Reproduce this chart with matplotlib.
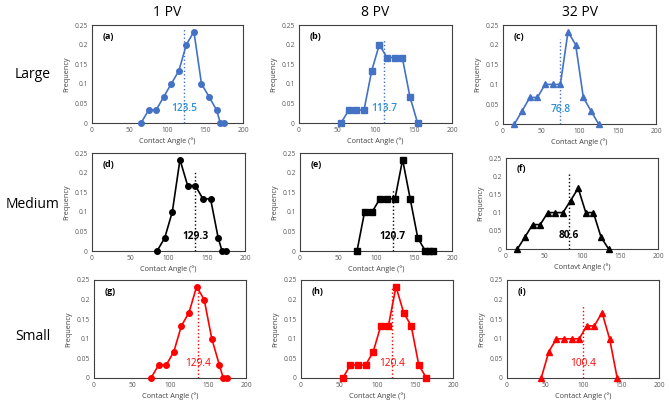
import matplotlib
matplotlib.use('Agg')
import matplotlib.pyplot as plt

plt.rcParams['font.family'] = ['Open Sans', 'DejaVu Sans']

# bin centres and frequencies, one list per panel
x_a = [65, 75, 85, 95, 105, 115, 125, 135, 145, 155, 165, 170, 175]
y_a = [0, 0.033, 0.033, 0.067, 0.1, 0.133, 0.2, 0.233, 0.1, 0.067, 0.033, 0, 0]
x_b = [55, 65, 75, 85, 95, 105, 115, 125, 135, 145, 155]
y_b = [0, 0.033, 0.033, 0.033, 0.133, 0.2, 0.167, 0.167, 0.167, 0.067, 0]
x_c = [15, 25, 35, 45, 55, 65, 75, 85, 95, 105, 115, 125]
y_c = [0, 0.033, 0.067, 0.067, 0.1, 0.1, 0.1, 0.233, 0.2, 0.067, 0.033, 0]
x_d = [85, 95, 105, 115, 125, 135, 145, 155, 165, 170, 175]
y_d = [0, 0.033, 0.1, 0.233, 0.167, 0.167, 0.133, 0.133, 0.033, 0, 0]
x_e = [75, 85, 95, 105, 115, 125, 135, 145, 155, 165, 170, 175]
y_e = [0, 0.1, 0.1, 0.133, 0.133, 0.133, 0.233, 0.133, 0.033, 0, 0, 0]
x_f = [15, 25, 35, 45, 55, 65, 75, 85, 95, 105, 115, 125, 135]
y_f = [0, 0.033, 0.067, 0.067, 0.1, 0.1, 0.1, 0.133, 0.167, 0.1, 0.1, 0.033, 0]
x_g = [75, 85, 95, 105, 115, 125, 135, 145, 155, 165, 170, 175]
y_g = [0, 0.033, 0.033, 0.067, 0.133, 0.167, 0.233, 0.2, 0.1, 0.033, 0, 0]
x_h = [55, 65, 75, 85, 95, 105, 115, 125, 135, 145, 155, 165]
y_h = [0, 0.033, 0.033, 0.033, 0.067, 0.133, 0.133, 0.233, 0.167, 0.133, 0.033, 0]
x_i = [45, 55, 65, 75, 85, 95, 105, 115, 125, 135, 145]
y_i = [0, 0.067, 0.1, 0.1, 0.1, 0.1, 0.133, 0.133, 0.167, 0.1, 0]

xs = [x_a, x_b, x_c, x_d, x_e, x_f, x_g, x_h, x_i]
ys = [y_a, y_b, y_c, y_d, y_e, y_f, y_g, y_h, y_i]
letters = ['(a)', '(b)', '(c)', '(d)', '(e)', '(f)', '(g)', '(h)', '(i)']
mean_labels = ['123.5', '113.7', '76.8', '129.3', '120.7', '80.6', '129.4', '120.4', '100.4']
line_x = [122, 111, 75, 135, 122, 83, 137, 120, 100]
line_top = [0.24, 0.211, 0.214, 0.205, 0.156, 0.205, 0.237, 0.229, 0.185]
xlabels = ['Contact Angle (°)'] * 9
xlabels[5] = 'Contavt Angle (°)'

col_titles = ['1 PV', '8 PV', '32 PV']
row_titles = ['Large', 'Medium', 'Small']
row_colors = ['#4472C4', 'black', 'red']
text_colors = ['#2A90D8', 'black', 'red']
text_weights = ['semibold', 'bold', 'normal']
markers = ['o', 's', '^']

W, H = 669, 408
fig = plt.figure(figsize=(W / 100, H / 100), dpi=100)

# axes boxes in pixels: left, top, right, bottom
boxes = [(92, 25, 243, 123), (299, 25, 452, 123), (503, 25, 656, 124),
         (92, 153, 245, 251), (300, 153, 452, 251), (506, 158, 658, 249),
         (94, 280, 246, 378), (301, 280, 453, 378), (507, 280, 659, 378)]

for k in range(9):
    r, c = k // 3, k % 3
    l, t, rr, b = boxes[k]
    ax = fig.add_axes([l / W, 1 - b / H, (rr - l) / W, (b - t) / H])
    ax.plot(xs[k], ys[k], color=row_colors[r], marker=markers[c],
            markersize=4, linewidth=1.2, clip_on=False, zorder=3)
    ax.plot([line_x[k], line_x[k]], [0, line_top[k]], color=row_colors[r],
            linestyle=':', linewidth=1.0, zorder=4)
    ax.text(line_x[k], 0.036, mean_labels[k], color=text_colors[r],
            fontsize=7.3, fontweight=text_weights[r], ha='center', va='center')
    ax.text(0.07, 0.88, letters[k], transform=ax.transAxes, fontsize=6.5,
            fontweight='bold', ha='left', va='center')
    ax.set_xlim(0, 200)
    ax.set_ylim(0, 0.25)
    ax.set_xticks([0, 50, 100, 150, 200])
    ax.set_yticks([0, 0.05, 0.1, 0.15, 0.2, 0.25])
    ax.set_yticklabels(['0', '0.05', '0.1', '0.15', '0.2', '0.25'])
    ax.tick_params(labelsize=4.8, colors='#595959', length=0, pad=3)
    for s in ax.spines.values():
        s.set_linewidth(0.8)
        s.set_color('#404040')
    ax.set_xlabel(xlabels[k], fontsize=5.2, color='#404040', labelpad=2)
    ax.set_ylabel('Frequency', fontsize=5.2, color='#404040', labelpad=3)

col_centers = [167, 375, 580]
for c in range(3):
    fig.text(col_centers[c] / W, 1 - 12 / H, col_titles[c], fontsize=10,
             ha='center', va='center')

row_centers = [75, 205, 336]
for r in range(3):
    fig.text(33 / W, 1 - row_centers[r] / H, row_titles[r], fontsize=10,
             ha='center', va='center')

fig.savefig('out.png', dpi=100)
